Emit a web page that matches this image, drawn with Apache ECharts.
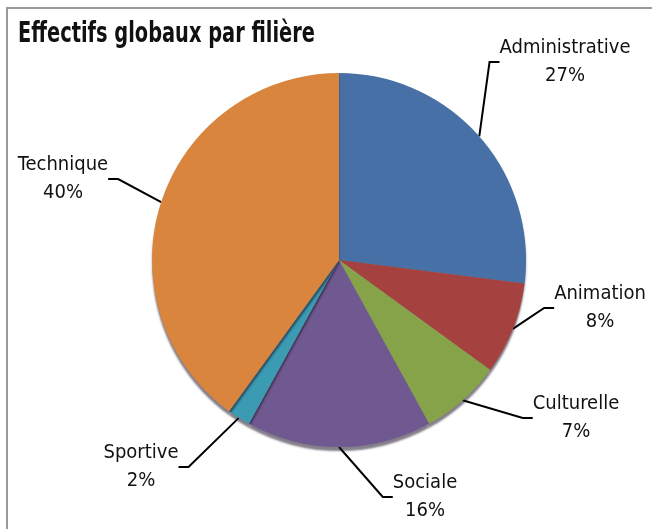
<!DOCTYPE html>
<html>
<head>
<meta charset="utf-8">
<script src="https://cdn.jsdelivr.net/npm/echarts@6/dist/echarts.min.js"></script>
<style>
  html, body { margin: 0; padding: 0; background: #fff; }
  #chart { width: 652px; height: 529px; }
</style>
</head>
<body>
<div id="chart"></div>
<script>
const chartTitle = 'Effectifs globaux par filière'
const filieres = ['Administrative', 'Animation', 'Culturelle', 'Sociale', 'Sportive', 'Technique']
const parts = [27, 8, 7, 16, 2, 40]
const colors = ['#4670a6', '#a5423f', '#86a34a', '#6f5990', '#3a9bb3', '#d9853e']

// where each label box sits (center of the text block)
const labelSpots = [
  [565, 62], [600, 308], [576, 418], [425, 497], [141, 467], [63, 179]
]

const chart = echarts.init(document.getElementById('chart'))

const option = {
  animation: false,
  backgroundColor: '#fff',
  graphic: [
    {
      type: 'rect',
      shape: { x: 7, y: 8, width: 700, height: 600 },
      style: { fill: 'none', stroke: '#9a9a9a', lineWidth: 2 },
      silent: true
    },
    {
      // title drawn narrow, like the condensed font of the original
      type: 'text',
      x: 18,
      y: 21,
      scaleX: 0.77,
      style: {
        text: chartTitle,
        font: 'bold 28px "DejaVu Sans Condensed"',
        fill: '#111',
        verticalAlign: 'top'
      },
      silent: true
    }
  ],
  series: [
    {
      type: 'pie',
      center: [339, 260],
      radius: 187,
      startAngle: 90,
      clockwise: true,
      data: filieres.map((name, i) => ({
        name: name,
        value: parts[i],
        itemStyle: { color: colors[i] }
      })),
      itemStyle: {
        shadowColor: 'rgba(30,20,40,0.55)',
        shadowOffsetY: 4,
        shadowBlur: 2
      },
      label: {
        show: true,
        position: 'outside',
        formatter: (p) => p.name + '\n' + p.value + '%',
        fontFamily: 'DejaVu Sans Condensed',
        fontSize: 20,
        lineHeight: 28,
        color: '#111',
        align: 'center'
      },
      labelLine: {
        show: true,
        length: 10,
        length2: 10,
        lineStyle: { color: '#000', width: 2 }
      },
      labelLayout: (params) => {
        const p = labelSpots[params.dataIndex]
        return { x: p[0], y: p[1], align: 'center', verticalAlign: 'middle' }
      }
    }
  ]
}

chart.setOption(option)
</script>
</body>
</html>
